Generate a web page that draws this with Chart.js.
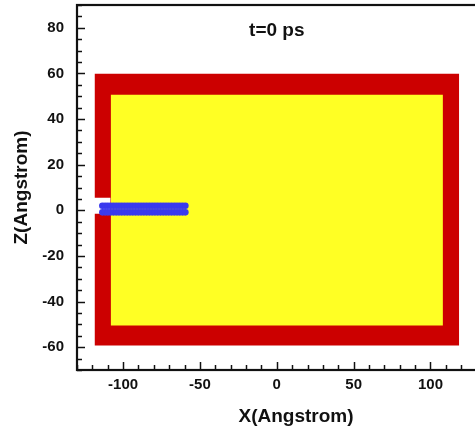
<!DOCTYPE html>
<html>
<head>
<meta charset="utf-8">
<script src="https://cdn.jsdelivr.net/npm/chart.js@4/dist/chart.umd.min.js"></script>
<style>
  html, body { margin: 0; padding: 0; background: #fff; overflow: hidden; }
  #wrap { width: 520px; height: 428px; }
</style>
</head>
<body>
<div id="wrap"><canvas id="atoms" width="520" height="428"></canvas></div>
<script>
// === Data (Angstrom) ===
const titleText = 't=0 ps';
const titlePos = [0, 78.6];

// red frame: [left, right] and [top, bottom]
const redFrameX = [-118.6, 118.7];
const redFrameZ = [59.9, -59.3];
// yellow block
const yellowX = [-108.1, 108.1];
const yellowZ = [50.7, -50.5];
// opening in the left wall where the chain enters
const gapX = [-119.5, -108.1];
const gapZ = [5.5, -1.5];
// blue chain: two rows of atoms
const blueX = [-113.5, -111.7, -109.9, -108.1, -106.3, -104.5, -102.7, -100.9, -99.1, -97.3,
               -95.5, -93.7, -91.9, -90.1, -88.3, -86.5, -84.7, -82.9, -81.1, -79.3,
               -77.5, -75.7, -73.9, -72.1, -70.3, -68.5, -66.7, -64.9, -63.1, -61.3, -59.5];
const blueZ = [2.0, -0.9];

// axes
const xRange = [-130, 155];
const zRange = [-70, 90];
const xTickLabels = [-100, -50, 0, 50, 100, 150];
const zTickLabels = [-60, -40, -20, 0, 20, 40, 60, 80];
const xMinorStep = 10, xMajorStep = 50;
const zMinorStep = 5, zMajorStep = 20;

const FONT = "'Liberation Sans', Arial, Helvetica, sans-serif";
const RED = '#cc0000', YELLOW = '#ffff24', BLUE = '#3a3aee';

// rectangle as a top edge filled down to the bottom value
function box(xs, zs, color, order) {
    return {
        type: 'line',
        data: [{ x: xs[0], y: zs[0] }, { x: xs[1], y: zs[0] }],
        borderWidth: 0,
        pointRadius: 0,
        backgroundColor: color,
        fill: { value: zs[1] },
        order: order
    };
}

function chainRow(z, order) {
    return {
        type: 'scatter',
        data: blueX.map(x => ({ x: x, y: z })),
        pointRadius: 3.3,
        pointBorderWidth: 0,
        backgroundColor: BLUE,
        showLine: false,
        order: order
    };
}

// === frame, inward ticks and the time label ===
const framePlugin = {
    id: 'frame',
    afterDraw(chart) {
        const ctx = chart.ctx;
        const a = chart.chartArea;
        const xs = chart.scales.x, ys = chart.scales.y;
        ctx.save();
        ctx.strokeStyle = '#111';
        ctx.lineWidth = 1.5;
        for (let v = xRange[0]; v <= xRange[1]; v += xMinorStep) {
            const px = Math.round(xs.getPixelForValue(v)) + 0.5;
            const len = v % xMajorStep === 0 ? 8 : 5;
            ctx.beginPath();
            ctx.moveTo(px, a.bottom);
            ctx.lineTo(px, a.bottom - len);
            ctx.stroke();
        }
        for (let v = zRange[0]; v <= zRange[1]; v += zMinorStep) {
            const py = Math.round(ys.getPixelForValue(v)) + 0.5;
            const len = v % zMajorStep === 0 ? 8 : 5;
            ctx.beginPath();
            ctx.moveTo(a.left, py);
            ctx.lineTo(a.left + len, py);
            ctx.stroke();
        }
        ctx.lineWidth = 2.2;
        ctx.strokeRect(a.left, a.top, a.right - a.left, a.bottom - a.top);

        ctx.fillStyle = '#111';
        ctx.font = 'bold 19px ' + FONT;
        ctx.textAlign = 'center';
        ctx.textBaseline = 'middle';
        ctx.fillText(titleText, xs.getPixelForValue(titlePos[0]), ys.getPixelForValue(titlePos[1]));
        ctx.restore();
    }
};

new Chart(document.getElementById('atoms').getContext('2d'), {
    data: {
        datasets: [
            chainRow(blueZ[0], 0),
            chainRow(blueZ[1], 1),
            box(gapX, gapZ, '#ffffff', 2),
            box(yellowX, yellowZ, YELLOW, 3),
            box(redFrameX, redFrameZ, RED, 4)
        ]
    },
    options: {
        responsive: false,
        animation: false,
        layout: { padding: { top: 5, right: 5, left: 0, bottom: 0 } },
        plugins: {
            legend: { display: false },
            tooltip: { enabled: false }
        },
        scales: {
            x: {
                type: 'linear',
                min: xRange[0],
                max: xRange[1],
                grid: { display: false, drawTicks: false },
                border: { display: false },
                afterBuildTicks: s => { s.ticks = xTickLabels.map(v => ({ value: v })); },
                afterFit: s => { s.height = 58; s.paddingLeft = 0; s.paddingRight = 0; },
                ticks: {
                    autoSkip: false,
                    maxRotation: 0,
                    padding: 6,
                    color: '#111',
                    font: { family: FONT, size: 15, weight: 'bold' }
                },
                title: {
                    display: true,
                    text: 'X(Angstrom)',
                    color: '#111',
                    padding: { top: 4, bottom: 0 },
                    font: { family: FONT, size: 19, weight: 'bold' }
                }
            },
            y: {
                type: 'linear',
                min: zRange[0],
                max: zRange[1],
                grid: { display: false, drawTicks: false },
                border: { display: false },
                afterBuildTicks: s => { s.ticks = zTickLabels.map(v => ({ value: v })); },
                afterFit: s => { s.width = 77; s.paddingTop = 0; s.paddingBottom = 0; },
                ticks: {
                    autoSkip: false,
                    padding: 13,
                    color: '#111',
                    font: { family: FONT, size: 15, weight: 'bold' }
                },
                title: {
                    display: true,
                    text: 'Z(Angstrom)',
                    color: '#111',
                    padding: { top: 10, bottom: 0 },
                    font: { family: FONT, size: 19, weight: 'bold' }
                }
            }
        }
    },
    plugins: [framePlugin]
});
</script>
</body>
</html>
